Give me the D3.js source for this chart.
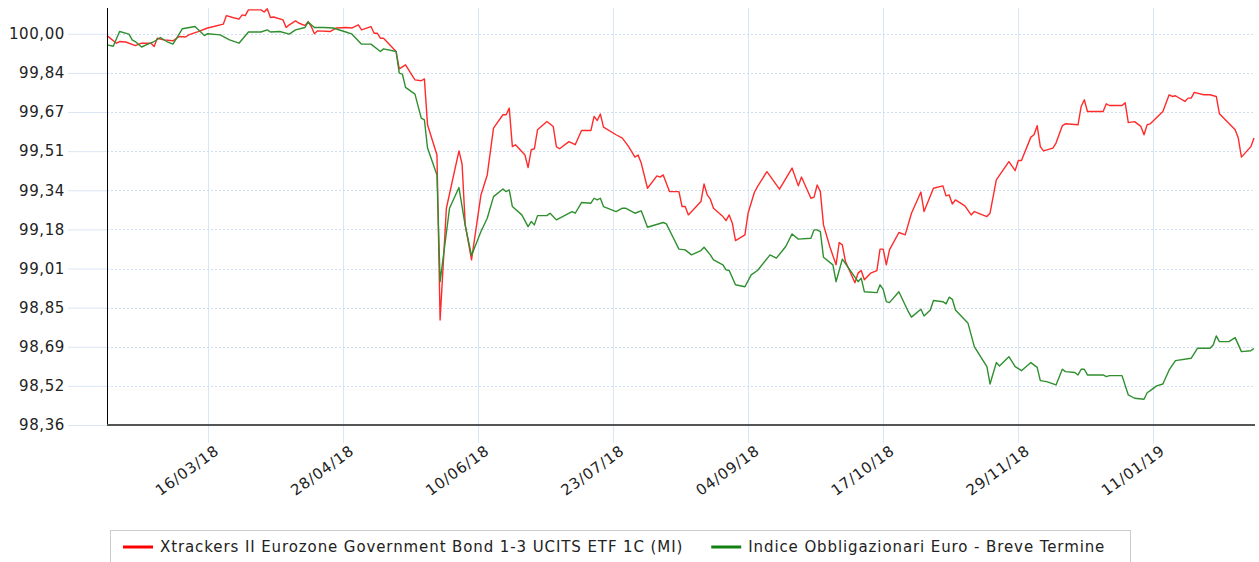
<!DOCTYPE html>
<html>
<head>
<meta charset="utf-8">
<script src="https://cdn.jsdelivr.net/npm/d3@7"></script>
<style>
  body { margin: 0; background: #fff; }
  svg { display: block; font-family: 'DejaVu Sans', Verdana, sans-serif; }
</style>
</head>
<body>
<script>
var redDates = ['12/02/18','15/02/18','16/02/18','18/02/18','21/02/18','23/02/18','26/02/18','27/02/18','28/02/18','02/03/18','05/03/18','07/03/18','09/03/18','10/03/18','13/03/18','16/03/18','18/03/18','21/03/18','22/03/18','24/03/18','26/03/18','27/03/18','28/03/18','29/03/18','02/04/18','03/04/18','04/04/18','05/04/18','06/04/18','09/04/18','10/04/18','11/04/18','13/04/18','14/04/18','16/04/18','17/04/18','18/04/18','19/04/18','20/04/18','24/04/18','26/04/18','29/04/18','01/05/18','03/05/18','04/05/18','07/05/18','08/05/18','09/05/18','10/05/18','11/05/18','15/05/18','16/05/18','18/05/18','21/05/18','23/05/18','24/05/18','25/05/18','28/05/18','29/05/18','31/05/18','04/06/18','05/06/18','06/06/18','08/06/18','11/06/18','13/06/18','15/06/18','18/06/18','19/06/18','20/06/18','21/06/18','22/06/18','25/06/18','26/06/18','27/06/18','28/06/18','29/06/18','02/07/18','04/07/18','05/07/18','06/07/18','09/07/18','11/07/18','13/07/18','16/07/18','17/07/18','18/07/18','19/07/18','20/07/18','24/07/18','26/07/18','28/07/18','30/07/18','31/07/18','01/08/18','03/08/18','06/08/18','07/08/18','08/08/18','10/08/18','13/08/18','14/08/18','15/08/18','16/08/18','20/08/18','21/08/18','22/08/18','23/08/18','24/08/18','27/08/18','28/08/18','29/08/18','30/08/18','31/08/18','03/09/18','04/09/18','06/09/18','07/09/18','10/09/18','14/09/18','18/09/18','20/09/18','21/09/18','24/09/18','25/09/18','26/09/18','27/09/18','28/09/18','30/09/18','02/10/18','03/10/18','04/10/18','05/10/18','08/10/18','09/10/18','10/10/18','11/10/18','13/10/18','15/10/18','16/10/18','17/10/18','18/10/18','19/10/18','22/10/18','24/10/18','26/10/18','29/10/18','30/10/18','02/11/18','05/11/18','06/11/18','07/11/18','08/11/18','09/11/18','12/11/18','14/11/18','15/11/18','19/11/18','20/11/18','22/11/18','26/11/18','28/11/18','29/11/18','30/11/18','03/12/18','04/12/18','05/12/18','06/12/18','07/12/18','10/12/18','11/12/18','13/12/18','14/12/18','18/12/18','19/12/18','20/12/18','21/12/18','26/12/18','27/12/18','28/12/18','01/01/19','02/01/19','03/01/19','05/01/19','07/01/19','08/01/19','09/01/19','10/01/19','14/01/19','16/01/19','17/01/19','18/01/19','21/01/19','22/01/19','23/01/19','24/01/19','27/01/19','29/01/19','31/01/19','01/02/19','06/02/19','07/02/19','08/02/19','11/02/19','12/02/19'];
var redValues = [99.994,99.962,99.969,99.967,99.952,99.962,99.962,99.948,99.983,99.976,99.972,99.990,99.988,99.997,100.011,100.026,100.032,100.042,100.078,100.070,100.063,100.081,100.078,100.102,100.102,100.093,100.107,100.070,100.072,100.060,100.028,100.039,100.056,100.047,100.036,100.053,100.032,100.002,100.014,100.011,100.026,100.028,100.026,100.039,100.018,100.032,100.004,100.004,99.983,99.983,99.927,99.854,99.871,99.808,99.804,99.812,99.619,99.492,98.798,99.268,99.509,99.453,99.198,99.051,99.324,99.408,99.605,99.661,99.661,99.689,99.527,99.535,99.492,99.439,99.514,99.518,99.598,99.633,99.612,99.527,99.518,99.548,99.535,99.595,99.595,99.654,99.637,99.664,99.609,99.577,99.563,99.527,99.483,99.492,99.458,99.352,99.404,99.399,99.408,99.338,99.338,99.275,99.275,99.240,99.296,99.370,99.324,99.306,99.268,99.233,99.216,99.240,99.205,99.132,99.156,99.247,99.334,99.359,99.422,99.348,99.437,99.362,99.399,99.310,99.315,99.366,99.338,99.198,99.107,99.030,99.124,99.114,99.044,98.955,98.995,99.006,98.967,98.995,99.006,99.096,99.096,99.030,99.093,99.166,99.156,99.247,99.336,99.254,99.352,99.362,99.320,99.324,99.286,99.303,99.278,99.240,99.254,99.233,99.247,99.387,99.464,99.426,99.469,99.469,99.567,99.577,99.615,99.527,99.509,99.521,99.542,99.615,99.623,99.619,99.696,99.724,99.675,99.675,99.707,99.700,99.700,99.712,99.628,99.632,99.612,99.577,99.619,99.623,99.675,99.745,99.738,99.741,99.717,99.731,99.731,99.755,99.745,99.745,99.738,99.665,99.598,99.563,99.483,99.527,99.563];

var greenDates = ['12/02/18','14/02/18','16/02/18','19/02/18','20/02/18','21/02/18','23/02/18','25/02/18','27/02/18','01/03/18','03/03/18','05/03/18','08/03/18','12/03/18','15/03/18','16/03/18','20/03/18','23/03/18','26/03/18','29/03/18','02/04/18','04/04/18','05/04/18','08/04/18','11/04/18','13/04/18','16/04/18','17/04/18','19/04/18','22/04/18','25/04/18','29/04/18','01/05/18','04/05/18','07/05/18','10/05/18','11/05/18','15/05/18','16/05/18','17/05/18','18/05/18','21/05/18','23/05/18','24/05/18','25/05/18','28/05/18','29/05/18','01/06/18','04/06/18','06/06/18','08/06/18','11/06/18','13/06/18','15/06/18','18/06/18','19/06/18','20/06/18','21/06/18','24/06/18','26/06/18','27/06/18','28/06/18','29/06/18','02/07/18','03/07/18','05/07/18','10/07/18','11/07/18','13/07/18','16/07/18','17/07/18','18/07/18','19/07/18','20/07/18','24/07/18','26/07/18','27/07/18','30/07/18','01/08/18','03/08/18','08/08/18','09/08/18','11/08/18','13/08/18','15/08/18','17/08/18','20/08/18','21/08/18','23/08/18','24/08/18','27/08/18','28/08/18','29/08/18','31/08/18','03/09/18','05/09/18','07/09/18','11/09/18','13/09/18','16/09/18','18/09/18','20/09/18','24/09/18','25/09/18','26/09/18','27/09/18','28/09/18','01/10/18','02/10/18','04/10/18','09/10/18','10/10/18','11/10/18','15/10/18','16/10/18','17/10/18','18/10/18','19/10/18','22/10/18','25/10/18','26/10/18','29/10/18','30/10/18','01/11/18','02/11/18','05/11/18','06/11/18','07/11/18','08/11/18','09/11/18','13/11/18','15/11/18','19/11/18','20/11/18','22/11/18','23/11/18','26/11/18','28/11/18','30/11/18','03/12/18','05/12/18','06/12/18','08/12/18','11/12/18','13/12/18','14/12/18','17/12/18','18/12/18','19/12/18','20/12/18','21/12/18','26/12/18','27/12/18','28/12/18','01/01/19','03/01/19','05/01/19','08/01/19','09/01/19','10/01/19','12/01/19','14/01/19','16/01/19','18/01/19','23/01/19','25/01/19','29/01/19','30/01/19','31/01/19','01/02/19','04/02/19','06/02/19','08/02/19','11/02/19','12/02/19'];
var greenValues = [99.955,99.949,100.011,100.000,99.976,99.969,99.946,99.958,99.969,99.986,99.969,99.958,100.023,100.032,99.994,100.002,99.997,99.976,99.962,100.009,100.009,100.018,100.009,100.011,100.000,100.018,100.028,100.051,100.028,100.028,100.026,100.009,100.000,99.958,99.958,99.927,99.938,99.927,99.836,99.832,99.776,99.748,99.647,99.640,99.521,99.408,98.959,99.268,99.355,99.195,99.069,99.170,99.226,99.317,99.349,99.338,99.345,99.275,99.240,99.191,99.212,99.198,99.237,99.237,99.247,99.219,99.254,99.247,99.292,99.289,99.310,99.303,99.310,99.275,99.254,99.268,99.268,99.247,99.257,99.188,99.208,99.202,99.149,99.096,99.093,99.072,99.090,99.104,99.072,99.051,99.030,99.009,99.006,98.946,98.938,98.988,99.006,99.072,99.058,99.107,99.160,99.138,99.142,99.177,99.177,99.170,99.062,99.030,98.959,99.054,98.959,98.974,98.917,98.913,98.946,98.927,98.875,98.871,98.917,98.833,98.810,98.843,98.815,98.840,98.880,98.875,98.866,98.894,98.885,98.840,98.784,98.686,98.602,98.529,98.619,98.605,98.644,98.602,98.585,98.619,98.599,98.543,98.539,98.525,98.591,98.581,98.577,98.567,98.591,98.591,98.567,98.567,98.560,98.564,98.564,98.483,98.469,98.465,98.492,98.501,98.521,98.529,98.588,98.627,98.637,98.679,98.679,98.693,98.731,98.707,98.707,98.724,98.665,98.669,98.678];

var xTickDates  = ['16/03/18', '28/04/18', '10/06/18', '23/07/18', '04/09/18', '17/10/18', '29/11/18', '11/01/19'];
var yTickValues = [98.3565, 98.521, 98.6855, 98.85, 99.0145, 99.179, 99.3435, 99.508, 99.6725, 99.837, 100.0015];
var seriesNames  = ['Xtrackers II Eurozone Government Bond 1-3 UCITS ETF 1C (MI)', 'Indice Obbligazionari Euro - Breve Termine'];

var
  width    = 1259,
  height   = 562,
  plotL    = 107,
  plotR    = 1255,
  plotT    = 8,
  plotB    = 425,
  lineCol  = ['#ff2b2b', '#2f8f2f'],
  keyCol   = ['#ff0000', '#138013'],
  grid     = '#d9e6f6',
  font     = "'DejaVu Sans', Verdana, sans-serif",
  parse    = d3.timeParse('%d/%m/%y'),
  fmt      = d3.formatLocale({decimal: ',', thousands: '.', grouping: [3], currency: ['', '']}).format('.2f'),
  x        = d3.scaleTime()
                .domain([parse('12/02/18'), parse('12/02/19')])
                .range([plotL, plotR - 1]),
  y        = d3.scaleLinear()
                .domain([98.3565, 100.11])
                .range([plotB, plotT]),
  svg      = d3.select('body')
                .append('svg')
                .attr('width', width)
                .attr('height', height);

function series(dates, values) {
  return dates.map(function (d, i) { return {date: parse(d), value: values[i]} });
}

var data = [series(redDates, redValues), series(greenDates, greenValues)];
var xTicks = xTickDates.map(parse);

// vertical grid (runs below the axis as tick marks)
svg.append('g')
  .selectAll('line')
  .data(xTicks)
  .enter().append('line')
    .attr('x1', function (d) { return Math.round(x(d)) + 0.5 })
    .attr('x2', function (d) { return Math.round(x(d)) + 0.5 })
    .attr('y1', plotT)
    .attr('y2', plotB + 18)
    .attr('stroke', grid);

// dotted horizontal grid
svg.append('g')
  .selectAll('line')
  .data(yTickValues)
  .enter().append('line')
    .attr('x1', plotL)
    .attr('x2', plotR)
    .attr('y1', function (d) { return Math.round(y(d)) + 0.5 })
    .attr('y2', function (d) { return Math.round(y(d)) + 0.5 })
    .attr('stroke', '#cfdff3')
    .attr('stroke-dasharray', '2,2');

// y axis labels + short solid ticks
var yAxis = svg.append('g')
    .attr('transform', 'translate(' + plotL + ',0)')
    .call(d3.axisLeft(y).tickValues(yTickValues).tickFormat(fmt).tickSize(39).tickPadding(3));
yAxis.select('.domain').remove();
yAxis.selectAll('line').attr('stroke', grid);
yAxis.selectAll('text')
    .attr('fill', '#222')
    .style('font-size', '15px')
    .style('letter-spacing', '0.6px')
    .style('font-family', font);

// x axis labels
var xAxis = svg.append('g')
    .attr('transform', 'translate(0,' + plotB + ')')
    .call(d3.axisBottom(x).tickValues(xTicks).tickFormat(d3.timeFormat('%d/%m/%y')).tickSize(0));
xAxis.select('.domain').remove();
xAxis.selectAll('text')
    .attr('fill', '#222')
    .attr('text-anchor', 'end')
    .attr('dy', null)
    .attr('y', 0)
    .attr('transform', 'translate(12,28) rotate(-36)')
    .style('font-size', '15px')
    .style('letter-spacing', '0.8px')
    .style('font-family', font);

// series
var line = d3.line()
    .x(function (d) { return x(d.date) })
    .y(function (d) { return y(d.value) });

svg.append('g')
  .selectAll('path')
  .data(data)
  .enter().append('path')
    .attr('d', line)
    .attr('fill', 'none')
    .attr('stroke', function (d, i) { return lineCol[i] })
    .attr('stroke-width', 1.4)
    .attr('stroke-linejoin', 'round');

// frame
svg.append('line')
    .attr('x1', plotL + 0.5).attr('x2', plotL + 0.5)
    .attr('y1', plotT).attr('y2', plotB)
    .attr('stroke', '#000');
svg.append('line')
    .attr('x1', plotL).attr('x2', plotR)
    .attr('y1', plotB).attr('y2', plotB)
    .attr('stroke', '#555')
    .attr('stroke-width', 2);

// legend
var legend = svg.append('g');
legend.append('rect')
    .attr('x', 110.5).attr('y', 530.5)
    .attr('width', 1020).attr('height', 40)
    .attr('fill', '#fff')
    .attr('stroke', '#ccc');

var pos = 123;
seriesNames.forEach(function (name, i) {
  legend.append('line')
      .attr('x1', pos).attr('x2', pos + 30)
      .attr('y1', 547).attr('y2', 547)
      .attr('stroke', keyCol[i])
      .attr('stroke-width', 3);
  var t = legend.append('text')
      .attr('x', pos + 37)
      .attr('y', 547)
      .attr('dy', '.35em')
      .attr('fill', '#222')
      .style('font-size', '15px')
      .style('letter-spacing', '0.9px')
      .text(name);
  pos = pos + 37 + t.node().getComputedTextLength() + 28;
});
</script>
</body>
</html>
